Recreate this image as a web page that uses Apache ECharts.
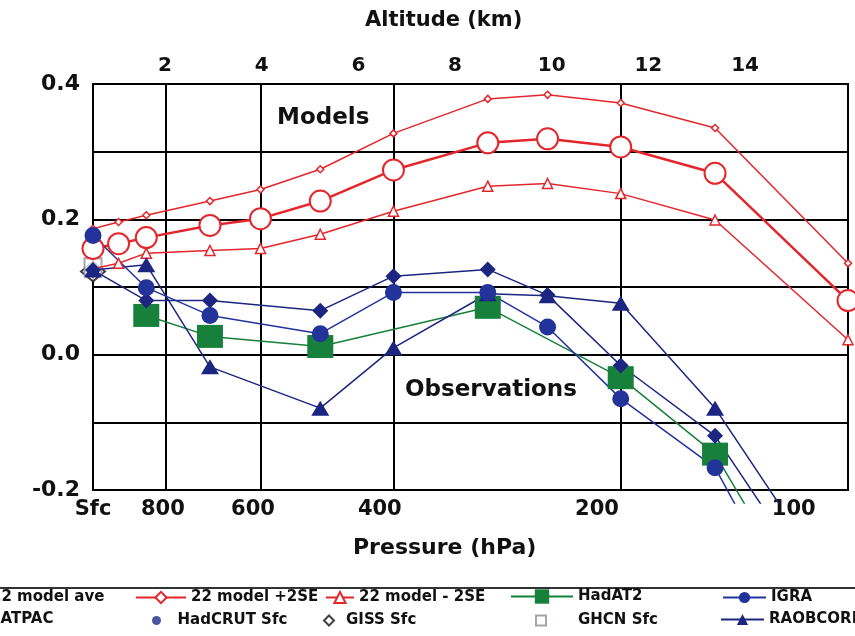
<!DOCTYPE html>
<html><head><meta charset="utf-8">
<script src="https://cdn.jsdelivr.net/npm/echarts@6/dist/echarts.min.js"></script>
<style>html,body{margin:0;padding:0;background:#fff}#c{width:855px;height:636px}</style>
</head><body><div id="c"></div>
<script>
// pressure levels (hPa); 1000 = surface
const levels = [1000, 925, 850, 700, 600, 500, 400, 300, 250, 200, 150, 100];
const modelAve      = [0.157, 0.164, 0.173, 0.191, 0.201, 0.227, 0.273, 0.313, 0.319, 0.307, 0.268, 0.080];
const modelPlus2SE  = [0.186, 0.196, 0.206, 0.227, 0.244, 0.274, 0.327, 0.378, 0.384, 0.372, 0.335, 0.135];
const modelMinus2SE = [0.127, 0.135, 0.150, 0.154, 0.157, 0.178, 0.212, 0.249, 0.253, 0.238, 0.199, 0.022];
const hadat2   = [null, null, 0.058, 0.027, null, 0.012, null, 0.070, null, -0.034, -0.147, -0.478];
const igra     = [0.176, null, 0.099, 0.058, null, 0.031, 0.092, 0.092, 0.041, -0.065, -0.167, -0.527];
const ratpac   = [0.125, null, 0.080, 0.080, null, 0.065, 0.116, 0.126, 0.088, -0.016, -0.120, -0.413];
const raobcore = [0.125, null, 0.133, -0.018, null, -0.079, 0.010, 0.090, 0.087, 0.076, -0.079, -0.373];
const hadcrutSfc = [0.176];
const gissSfc = [0.123];
const ghcnSfc = [0.130];
const sfcLevel = [1000];
// axis ticks / labels
const pressureGrid = [800, 600, 400, 200];
const pressureLabels = ['Sfc', '800', '600', '400', '200', '100'];
const pressureLabelAt = [1000, 808, 614, 417, 215, 118];
const altitudeTicks = [2, 4, 6, 8, 10, 12, 14];
const yLabelTicks = [-0.2, 0.0, 0.2, 0.4];

const F = 'DejaVu Sans';
const RED = '#e3262b', NAVY = '#1c2580', GREEN = '#17803a';

function pairs(xs, ys) {
  const out = [];
  ys.forEach((v, i) => { if (v !== null) out.push([xs[i], v]); });
  return out;
}

const chart = echarts.init(document.getElementById('c'), null, {renderer: 'canvas'});

const logX = {type: 'log', logBase: 10, min: 100, max: 1000, inverse: true};

function lg(name, left, top, w, h, padLeft) {
  return {data: [name], left: left, top: top, itemWidth: w, itemHeight: h, padding: 0,
    itemGap: 0, selectedMode: false,
    textStyle: {fontFamily: F, fontWeight: 'bold', fontSize: 15, color: '#111',
      padding: [0, 0, 0, padLeft || 0]}};
}

const option = {
  backgroundColor: '#fff',
  animation: false,
  grid: [
    {left: 93, top: 84, right: 7, bottom: 146, show: true, borderColor: '#000', borderWidth: 2, backgroundColor: 'transparent'},
    {left: 93, top: 84, right: 7, bottom: 133, show: false}
  ],
  xAxis: [
    Object.assign({}, logX, {gridIndex: 0, position: 'bottom',
      axisLine: {show: false},
      axisTick: {show: true, customValues: pressureGrid, length: 6, lineStyle: {color: '#000', width: 2}},
      splitLine: {show: true, lineStyle: {color: '#000', width: 2}},
      axisLabel: {show: false}}),
    Object.assign({}, logX, {gridIndex: 0, position: 'bottom',
      axisLine: {show: false}, axisTick: {show: false}, splitLine: {show: false},
      axisLabel: {show: true, customValues: pressureLabelAt, margin: 9,
        formatter: v => { const i = pressureLabelAt.findIndex(p => Math.abs(p - v) < 0.5); return i >= 0 ? pressureLabels[i] : ''; },
        fontFamily: F, fontWeight: 'bold', fontSize: 21, color: '#111'}}),
    {type: 'value', gridIndex: 0, position: 'top', min: 0.51, max: 16.13,
      axisLine: {show: false}, axisTick: {show: false}, splitLine: {show: false},
      axisLabel: {show: true, customValues: altitudeTicks, margin: 8,
        fontFamily: F, fontWeight: 'bold', fontSize: 20, color: '#111'}},
    Object.assign({}, logX, {gridIndex: 1, show: false})
  ],
  yAxis: [
    {type: 'value', gridIndex: 0, min: -0.2, max: 0.4, interval: 0.1,
      axisLine: {show: false}, axisTick: {show: false},
      splitLine: {show: true, lineStyle: {color: '#000', width: 2}},
      axisLabel: {show: true, margin: 13,
        formatter: v => (yLabelTicks.some(t => Math.abs(t - v) < 1e-6) ? v.toFixed(1) : ''),
        fontFamily: F, fontWeight: 'bold', fontSize: 22, color: '#111'}},
    {type: 'value', gridIndex: 1, min: -0.2192, max: 0.4, show: false}
  ],
  graphic: [
    {type: 'text', left: 445 - 80, top: 10, style: {text: 'Altitude (km)', fontFamily: F, fontWeight: 'bold', fontSize: 21, fill: '#111'}},
    {type: 'text', left: 277, top: 107, style: {text: 'Models', fontFamily: F, fontWeight: 'bold', fontSize: 23, fill: '#111'}},
    {type: 'text', left: 405, top: 379, style: {text: 'Observations', fontFamily: F, fontWeight: 'bold', fontSize: 23, fill: '#111'}},
    {type: 'text', left: 353, top: 537, style: {text: 'Pressure (hPa)', fontFamily: F, fontWeight: 'bold', fontSize: 22, fill: '#111'}},
    {type: 'line', shape: {x1: 0, y1: 588, x2: 855, y2: 588}, style: {stroke: '#333', lineWidth: 2}}
  ],
  legend: [
    lg('22 model ave', -65, 590, 50, 14),
    lg('22 model +2SE', 135, 590, 50, 14),
    lg('22 model - 2SE', 325, 590, 28, 14),
    lg('HadAT2', 510, 589, 62, 18),
    lg('IGRA', 722, 590, 43, 14),
    lg('RATPAC', -60, 612, 43, 14),
    lg('HadCRUT Sfc', 152, 613, 10, 9, 11),
    lg('GISS Sfc', 323, 613, 10, 10, 7),
    lg('GHCN Sfc', 535, 613, 10, 10, 27),
    lg('RAOBCORE', 720, 612, 43, 14)
  ],
  series: [
    {name: '22 model - 2SE', type: 'line', xAxisIndex: 3, yAxisIndex: 1, clip: false,
      data: pairs(levels, modelMinus2SE), symbol: 'triangle', symbolSize: 10,
      lineStyle: {color: RED, width: 1.5}, itemStyle: {color: '#fff', borderColor: RED, borderWidth: 1.5}},
    {name: '22 model +2SE', type: 'line', xAxisIndex: 3, yAxisIndex: 1, clip: false,
      data: pairs(levels, modelPlus2SE), symbol: 'diamond', symbolSize: 7,
      lineStyle: {color: RED, width: 1.5}, itemStyle: {color: '#fff', borderColor: RED, borderWidth: 1.5}},
    {name: '22 model ave', type: 'line', xAxisIndex: 3, yAxisIndex: 1, clip: false,
      data: pairs(levels, modelAve), symbol: 'circle', symbolSize: 21,
      lineStyle: {color: RED, width: 2.5}, itemStyle: {color: '#fff', borderColor: RED, borderWidth: 2}},
    {name: 'HadAT2', type: 'line', xAxisIndex: 3, yAxisIndex: 1, clip: true,
      data: pairs(levels, hadat2), symbol: 'rect', symbolSize: [26, 23],
      lineStyle: {color: GREEN, width: 1.5}, itemStyle: {color: GREEN}},
    {name: 'RAOBCORE', type: 'line', xAxisIndex: 3, yAxisIndex: 1, clip: true,
      data: pairs(levels, raobcore), symbol: 'triangle', symbolSize: [18, 15],
      lineStyle: {color: NAVY, width: 1.5}, itemStyle: {color: NAVY}},
    {name: 'RATPAC', type: 'line', xAxisIndex: 3, yAxisIndex: 1, clip: true,
      data: pairs(levels, ratpac), symbol: 'diamond', symbolSize: 16,
      lineStyle: {color: NAVY, width: 1.5}, itemStyle: {color: NAVY}},
    {name: 'IGRA', type: 'line', xAxisIndex: 3, yAxisIndex: 1, clip: true,
      data: pairs(levels, igra), symbol: 'circle', symbolSize: 17,
      lineStyle: {color: '#2233a0', width: 1.5}, itemStyle: {color: '#22339a'}},
    {name: 'GISS Sfc', type: 'scatter', xAxisIndex: 3, yAxisIndex: 1, clip: false,
      data: pairs(sfcLevel, gissSfc), symbol: 'diamond', symbolSize: [24, 20],
      itemStyle: {color: '#fff', borderColor: '#111', borderWidth: 2}},
    {name: 'GHCN Sfc', type: 'scatter', xAxisIndex: 3, yAxisIndex: 1, clip: false,
      data: pairs(sfcLevel, ghcnSfc), symbol: 'rect', symbolSize: 17,
      itemStyle: {color: '#fff', borderColor: '#8a8f9a', borderWidth: 2}},
    {name: 'HadCRUT Sfc', type: 'scatter', xAxisIndex: 3, yAxisIndex: 1, clip: false,
      data: pairs(sfcLevel, hadcrutSfc), symbol: 'circle', symbolSize: 16,
      itemStyle: {color: '#1c2a8a'}}
  ]
};
chart.setOption(option);
</script>
</body></html>
